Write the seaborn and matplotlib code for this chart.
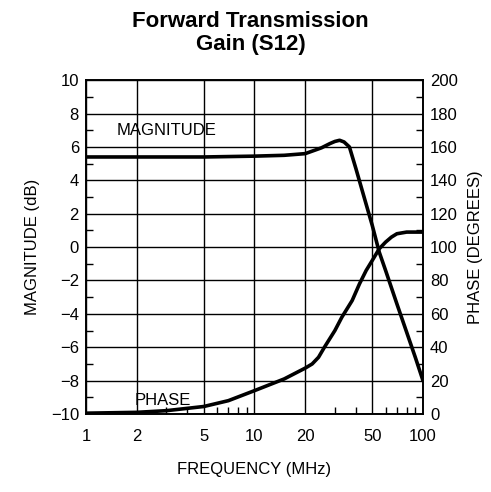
import numpy as np
import pandas as pd
import seaborn as sns
import matplotlib
matplotlib.use("Agg")
import matplotlib.pyplot as plt
from matplotlib.ticker import FixedLocator, NullFormatter, MultipleLocator

mag_freq = [1, 5, 10, 15, 20, 25, 28, 30, 32, 34, 36.6, 40, 45, 50, 55, 60, 70, 80, 90, 100]
mag_db = [5.4, 5.4, 5.45, 5.5, 5.6, 5.95, 6.2, 6.33, 6.4, 6.3, 6.0, 4.7, 2.9, 1.3, -0.3, -1.4, -3.4, -5.1, -6.6, -8.0]

phase_freq = [1, 2, 3, 5, 7, 10, 15, 20, 22, 24, 26, 30, 33, 38, 42, 46, 50, 55, 60, 65, 70, 80, 100]
phase_deg = [0.5, 1, 2, 4.5, 8, 14, 21, 27.5, 30, 34, 40, 50, 58, 68, 78, 86, 92, 99, 103, 106, 108, 109, 109]

x_ticks = [1, 2, 5, 10, 20, 50, 100]
x_labels = ["1", "2", "5", "10", "20", "50", "100"]

sns.set_style("white")
plt.rcParams['font.family'] = ['Liberation Sans', 'DejaVu Sans']
plt.rcParams['text.color'] = 'black'
plt.rcParams['axes.labelcolor'] = 'black'
plt.rcParams['xtick.color'] = 'black'
plt.rcParams['ytick.color'] = 'black'

fig = plt.figure(figsize=(4.91, 4.92), dpi=100)
ax = fig.add_axes([0.175, 0.1585, 0.6865, 0.6785])
ax2 = ax.twinx()

mag_df = pd.DataFrame({"f": mag_freq, "v": mag_db})
ph_df = pd.DataFrame({"f": phase_freq, "v": phase_deg})
sns.lineplot(data=mag_df, x="f", y="v", ax=ax, color="black", lw=2.6, zorder=3)
sns.lineplot(data=ph_df, x="f", y="v", ax=ax2, color="black", lw=2.6, zorder=3)

for a in (ax, ax2):
    a.set_xscale("log")
    a.set_xlim(1, 100)
ax.set_ylim(-10, 10)
ax2.set_ylim(0, 200)

ax.xaxis.set_major_locator(FixedLocator(x_ticks))
ax.set_xticklabels(x_labels)
ax.xaxis.set_minor_locator(FixedLocator([3, 4, 6, 7, 8, 9, 30, 40, 60, 70, 80, 90]))
ax.xaxis.set_minor_formatter(NullFormatter())
ax.yaxis.set_major_locator(MultipleLocator(2))
ax.yaxis.set_minor_locator(MultipleLocator(1))
ax2.yaxis.set_major_locator(MultipleLocator(20))
ax2.yaxis.set_minor_locator(MultipleLocator(10))

ax.grid(True, which="major", color="black", lw=1.0)
ax.set_axisbelow(True)
for a in (ax, ax2):
    for s in a.spines.values():
        s.set_color("black")
        s.set_linewidth(1.2)
    a.tick_params(which="major", length=0, labelsize=12, pad=5)
    a.tick_params(which="minor", direction="in", length=5, width=1)
ax.tick_params(axis="x", which="major", pad=11)
ax.tick_params(axis="x", which="minor", bottom=True, direction="in", length=5)

ax.set_xlabel("FREQUENCY (MHz)", fontsize=12, labelpad=13)
ax.set_ylabel("MAGNITUDE (dB)", fontsize=12, labelpad=8)
ax2.set_ylabel("PHASE (DEGREES)", fontsize=12, labelpad=7)
ax2.set_xlabel("")

ax.text(1.52, 7.0, "MAGNITUDE", fontsize=12, va="center", ha="left")
ax.text(1.95, -9.2, "PHASE", fontsize=12, va="center", ha="left")

fig.suptitle("Forward Transmission\nGain (S12)", fontsize=16, fontweight="bold", y=0.978,
             x=0.51, linespacing=1.15)

fig.savefig("out.png", dpi=100)
